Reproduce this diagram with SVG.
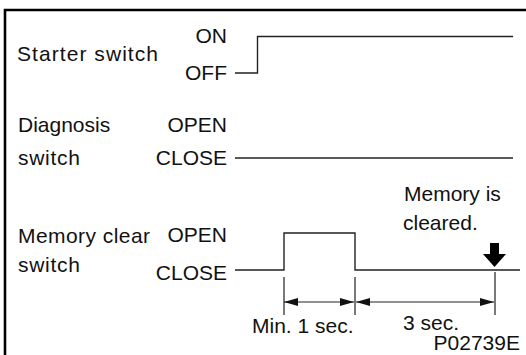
<svg xmlns="http://www.w3.org/2000/svg" width="526" height="355" viewBox="0 0 526 355">
<style>
text{font-family:"Liberation Sans",Arial,sans-serif;font-size:21px;fill:#111}
.r{text-anchor:end}
.w{fill:none;stroke:#222;stroke-width:1.4}
.t{fill:none;stroke:#222;stroke-width:1.2}
</style>
<defs>
<marker id="ah" markerWidth="14" markerHeight="8" refX="14" refY="4" orient="auto-start-reverse" markerUnits="userSpaceOnUse">
<path d="M0,0 L14,4 L0,8 Z" fill="#111"/>
</marker>
</defs>
<rect width="526" height="355" fill="#fff"/>
<path d="M5,355 V10 H526" fill="none" stroke="#000" stroke-width="2.6"/>
<g id="starter">
<text x="17" y="61" textLength="141" lengthAdjust="spacing">Starter switch</text>
<text class="r" x="227" y="43">ON</text>
<text class="r" x="227" y="80">OFF</text>
</g>
<g id="diagnosis">
<text x="18" y="132">Diagnosis</text>
<text x="18" y="165" textLength="62" lengthAdjust="spacing">switch</text>
<text class="r" x="227" y="132">OPEN</text>
<text class="r" x="227" y="165">CLOSE</text>
</g>
<g id="memclear">
<text x="18" y="243" textLength="132" lengthAdjust="spacing">Memory clear</text>
<text x="18" y="272" textLength="62" lengthAdjust="spacing">switch</text>
<text class="r" x="227" y="242">OPEN</text>
<text class="r" x="227" y="280">CLOSE</text>
</g>
<g id="note">
<text x="404" y="201">Memory is</text>
<text x="403" y="230">cleared.</text>
<path d="M490,243 H499 V254 H506 L494.5,267 L483,254 H490 Z" fill="#000"/>
</g>
<g id="labels">
<text x="252" y="333">Min. 1 sec.</text>
<text x="403" y="330">3 sec.</text>
<text x="520" y="350" class="r">P02739E</text>
</g>
<g id="connectors">
<path class="w" d="M235,73 H257.5 V36.5 H513"/>
<path class="w" d="M235,158 H513"/>
<path class="w" d="M235,270 H284 V233 H355 V270 H520"/>
<path class="t" d="M284,277 V315 M355,277 V315 M495,272 V315"/>
<path class="t" d="M284,302 H354" marker-start="url(#ah)" marker-end="url(#ah)"/>
<path class="t" d="M356,302 H494" marker-start="url(#ah)" marker-end="url(#ah)"/>
</g>
</svg>
